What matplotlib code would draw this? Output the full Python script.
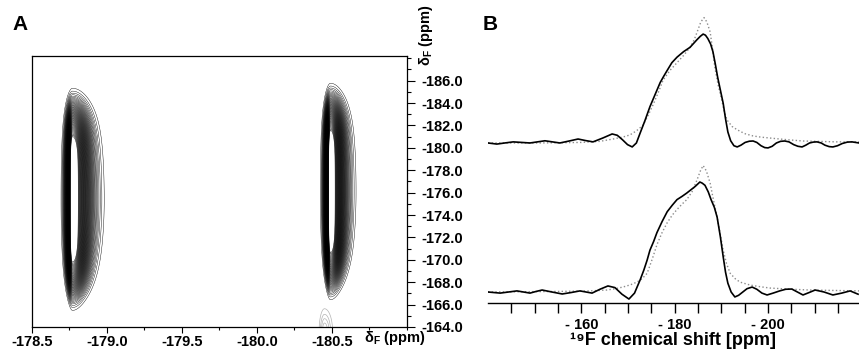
import numpy as np
import matplotlib
matplotlib.use("Agg")
import matplotlib.pyplot as plt
from matplotlib.ticker import FixedLocator, MultipleLocator, FuncFormatter

plt.rcParams['font.family'] = ['Liberation Sans', 'DejaVu Sans']
plt.rcParams['font.weight'] = 'bold'
plt.rcParams['mathtext.default'] = 'regular'

# ---- panel A: 2D peaks (centre x, centre y, width left, width right, half length)
peak_x = [-178.77, -180.49]
peak_y = [-175.4, -176.1]
peak_wl = [0.026, 0.023]
peak_wr = [0.072, 0.058]
peak_len = [7.9, 7.7]
small_peak = [-180.45, -163.6, 0.02, 0.03, 1.6]

a_xticks = [-178.5, -179.0, -179.5, -180.0, -180.5]
a_yticks = [-186.0, -184.0, -182.0, -180.0, -178.0, -176.0, -174.0,
            -172.0, -170.0, -168.0, -166.0, -164.0]

# ---- panel B: 1D spectra (ppm, relative intensity)
up_solid_ppm = [-140.0, -141.9, -143.6, -145.4, -147.2, -149.0, -150.6, -152.2,
                -153.8, -155.4, -157.4, -159.3, -160.9, -162.5, -164.6, -166.6,
                -167.7, -168.8, -169.9, -170.9, -171.8, -172.6, -173.6, -174.7,
                -175.8, -176.9, -177.7, -178.4, -179.4, -180.5, -181.9, -183.3,
                -184.8, -185.5, -186.1, -186.6, -187.1, -187.7, -188.2, -188.7,
                -189.2, -189.8, -190.4, -190.9, -191.4, -192.0, -192.7, -193.4,
                -194.2, -195.1, -196.0, -196.8, -197.6, -198.5, -199.3, -200.0,
                -200.9, -201.8, -202.7, -203.6, -204.5, -205.5, -206.4, -207.3,
                -208.1, -208.9, -209.7, -210.5, -211.4, -212.2, -213.1, -213.9,
                -214.9, -215.9, -217.0, -218.0, -219.5]
up_solid_int = [0.0, -0.01, 0.0, 0.01, 0.005, 0.0, 0.01, 0.02,
                0.01, 0.0, 0.018, 0.036, 0.022, 0.01, 0.045, 0.082,
                0.07, 0.03, -0.015, -0.036, 0.0, 0.09, 0.2, 0.33,
                0.44, 0.55, 0.61, 0.66, 0.73, 0.78, 0.83, 0.87,
                0.94, 0.97, 0.99, 0.98, 0.95, 0.90, 0.83, 0.72,
                0.60, 0.48, 0.36, 0.22, 0.10, 0.02, -0.025, -0.036,
                -0.02, 0.005, 0.016, 0.018, 0.005, -0.025, -0.042, -0.045,
                -0.03, 0.0, 0.015, 0.018, 0.01, -0.015, -0.03, -0.036,
                -0.02, 0.0, 0.008, 0.01, 0.0, -0.02, -0.033, -0.036,
                -0.025, -0.005, 0.008, 0.01, 0.0]

up_dot_ppm = [-140.0, -151.0, -160.0, -164.0, -166.8, -169.0, -170.4, -171.8,
              -173.2, -174.3, -175.4, -176.5, -177.5, -179.0, -180.5, -182.0,
              -183.3, -184.2, -185.0, -185.6, -186.3, -186.9, -187.6, -188.1,
              -188.6, -189.3, -190.1, -190.6, -191.2, -192.3, -193.4, -195.0,
              -196.8, -198.5, -200.4, -204.0, -207.5, -214.8, -219.5]
up_dot_int = [0.0, 0.0, 0.005, 0.015, 0.036, 0.055, 0.073, 0.11,
              0.16, 0.25, 0.35, 0.46, 0.57, 0.66, 0.73, 0.80,
              0.87, 0.94, 1.03, 1.10, 1.14, 1.10, 1.01, 0.86,
              0.69, 0.53, 0.39, 0.29, 0.21, 0.15, 0.12, 0.085,
              0.064, 0.053, 0.045, 0.03, 0.018, 0.01, 0.01]

lo_solid_ppm = [-140.0, -141.3, -142.6, -144.4, -146.2, -147.6, -149.0, -150.3,
                -151.6, -153.7, -155.9, -157.8, -159.7, -161.0, -162.3, -164.0,
                -165.7, -167.2, -168.7, -170.2, -171.4, -172.6, -173.4, -174.1,
                -174.7, -175.5, -176.2, -177.3, -178.4, -179.5, -180.5, -181.6,
                -182.6, -183.5, -184.4, -185.4, -185.9, -186.5, -187.2, -187.8,
                -188.5, -189.1, -189.8, -190.4, -190.9, -191.4, -192.1, -192.9,
                -193.7, -194.6, -195.5, -196.6, -197.6, -198.7, -199.8, -201.1,
                -202.5, -203.8, -205.1, -206.3, -207.5, -208.8, -210.1, -212.0,
                -213.9, -215.8, -217.6, -219.3]
lo_solid_int = [0.0, -0.005, -0.01, 0.0, 0.01, 0.0, -0.01, 0.005,
                0.018, 0.0, -0.018, -0.005, 0.01, 0.0, -0.01, 0.025,
                0.055, 0.04, -0.02, -0.064, -0.01, 0.11, 0.2, 0.29,
                0.38, 0.46, 0.54, 0.64, 0.73, 0.79, 0.84, 0.87,
                0.90, 0.93, 0.96, 1.0, 0.99, 0.97, 0.91, 0.84,
                0.77, 0.68, 0.50, 0.32, 0.18, 0.08, 0.0, -0.045,
                -0.03, 0.0, 0.03, 0.045, 0.025, -0.01, -0.027, -0.01,
                0.01, 0.025, 0.027, 0.0, -0.027, -0.005, 0.018, 0.0,
                -0.027, -0.01, 0.01, -0.02]

lo_dot_ppm = [-140.0, -155.0, -161.9, -165.5, -167.3, -168.9, -170.5, -171.9,
              -173.0, -174.1, -175.2, -176.2, -177.3, -178.4, -179.5, -180.5,
              -181.6, -182.6, -183.7, -184.8, -185.5, -186.1, -186.8, -187.6,
              -188.3, -189.1, -189.8, -190.4, -191.1, -191.9, -193.0, -194.0,
              -196.1, -198.0, -200.4, -205.0, -209.0, -219.5]
lo_dot_int = [0.0, 0.005, 0.01, 0.018, 0.03, 0.045, 0.065, 0.09,
              0.12, 0.17, 0.30, 0.43, 0.54, 0.63, 0.70, 0.75,
              0.80, 0.84, 0.91, 1.02, 1.10, 1.15, 1.10, 0.99,
              0.84, 0.68, 0.52, 0.38, 0.26, 0.17, 0.12, 0.09,
              0.064, 0.05, 0.036, 0.025, 0.018, 0.01]

up_offset = 1.355
b_ticks = [-145, -150, -155, -160, -165, -170, -175, -180, -185, -190,
           -195, -200, -205, -210, -215]
b_labels = {-160: '- 160', -180: '- 180', -200: '- 200'}

fig = plt.figure(figsize=(8.59, 3.52), dpi=100)

# ---------------- panel A
axA = fig.add_axes([32/859, 1-327/352, 375/859, 271/352])
xg = np.linspace(-178.5, -181.0, 1100)
yg = np.linspace(-164.0, -188.2, 900)
X, Y = np.meshgrid(xg, yg)
Z = np.zeros_like(X)
for cx, cy, wl, wr, hl in zip(peak_x, peak_y, peak_wl, peak_wr, peak_len):
    dy = Y - cy
    # x width narrows towards the ends, top rounder than bottom
    top = np.clip(1 - (dy/(1.5*hl))**2, 0, None) ** 0.35
    bot = np.clip(1 - (dy/(1.45*hl))**2, 0, None) ** 0.5
    env = np.where(dy < 0, top, bot) + 1e-6
    w = np.where(X > cx, wl, wr) * 1.05
    Z += np.exp(-(np.abs(dy)/hl)**6) * np.exp(-(X - cx)**2 / (2*(w*env)**2))
axA.contour(X, Y, Z, levels=np.linspace(0.02, 0.88, 58), colors='k', linewidths=0.3)

sx, sy, swl, swr, shl = small_peak
ws = np.where(X > sx, swl, swr)
Zs = np.exp(-(X - sx)**2 / (2*ws**2)) * np.exp(-((Y - sy)/shl)**2)
axA.contour(X, Y, Zs, levels=[0.2, 0.4, 0.6, 0.8], colors='0.7', linewidths=0.5)

axA.set_xlim(-178.5, -181.0)
axA.set_ylim(-164.0, -188.2)
axA.xaxis.set_major_locator(FixedLocator(a_xticks))
axA.xaxis.set_minor_locator(MultipleLocator(0.25))
axA.xaxis.set_major_formatter(FuncFormatter(lambda v, p: '%.1f' % v))
axA.yaxis.set_major_locator(FixedLocator(a_yticks))
axA.yaxis.set_minor_locator(MultipleLocator(1.0))
axA.yaxis.set_major_formatter(FuncFormatter(lambda v, p: '%.1f' % v))
axA.yaxis.tick_right()
axA.tick_params(axis='x', which='major', direction='out', length=4, width=0.8,
                labelsize=10.5, pad=2)
axA.tick_params(axis='x', which='minor', direction='out', length=2, width=0.8)
axA.tick_params(axis='y', which='major', direction='out', length=6, width=0.8,
                labelsize=10.5, pad=4)
axA.tick_params(axis='y', which='minor', direction='out', length=3, width=0.8)
for lab in axA.get_xticklabels() + axA.get_yticklabels():
    lab.set_fontweight('bold')
for s in axA.spines.values():
    s.set_linewidth(0.9)
axA.text(0.885, -0.04, r'δ$_F$ (ppm)', transform=axA.transAxes, ha='left', va='center',
         fontsize=10.5, fontweight='bold')
axA.text(1.05, 1.075, r'δ$_F$ (ppm)', transform=axA.transAxes, ha='center', va='center',
         rotation=90, fontsize=10.5, fontweight='bold')

# ---------------- panel B
axB = fig.add_axes([488/859, 1-303/352, 371/859, 303/352])
axB.plot(up_dot_ppm, np.array(up_dot_int) + up_offset, color='0.55', lw=1.0, ls=':')
axB.plot(up_solid_ppm, np.array(up_solid_int) + up_offset, color='k', lw=1.2)
axB.plot(lo_dot_ppm, lo_dot_int, color='0.55', lw=1.0, ls=':')
axB.plot(lo_solid_ppm, lo_solid_int, color='k', lw=1.2)
axB.set_xlim(-140, -219.5)
axB.set_ylim(-0.1, 2.655)
for side in ['top', 'left', 'right']:
    axB.spines[side].set_visible(False)
axB.spines['bottom'].set_linewidth(1.0)
axB.set_yticks([])
axB.xaxis.set_major_locator(FixedLocator(b_ticks))
axB.xaxis.set_major_formatter(FuncFormatter(lambda v, p: b_labels.get(int(round(v)), '')))
axB.tick_params(axis='x', direction='out', length=7, width=1.0, labelsize=10.5, pad=4)
for lab in axB.get_xticklabels():
    lab.set_fontweight('bold')
axB.set_xlabel('¹⁹F chemical shift [ppm]', fontsize=13, fontweight='bold', labelpad=0)

fig.text(12/859, 1-25/352, 'A', fontsize=15, fontweight='bold', va='center', ha='left')
fig.text(483/859, 1-25/352, 'B', fontsize=15, fontweight='bold', va='center', ha='left')

fig.savefig('out.png', dpi=100)
